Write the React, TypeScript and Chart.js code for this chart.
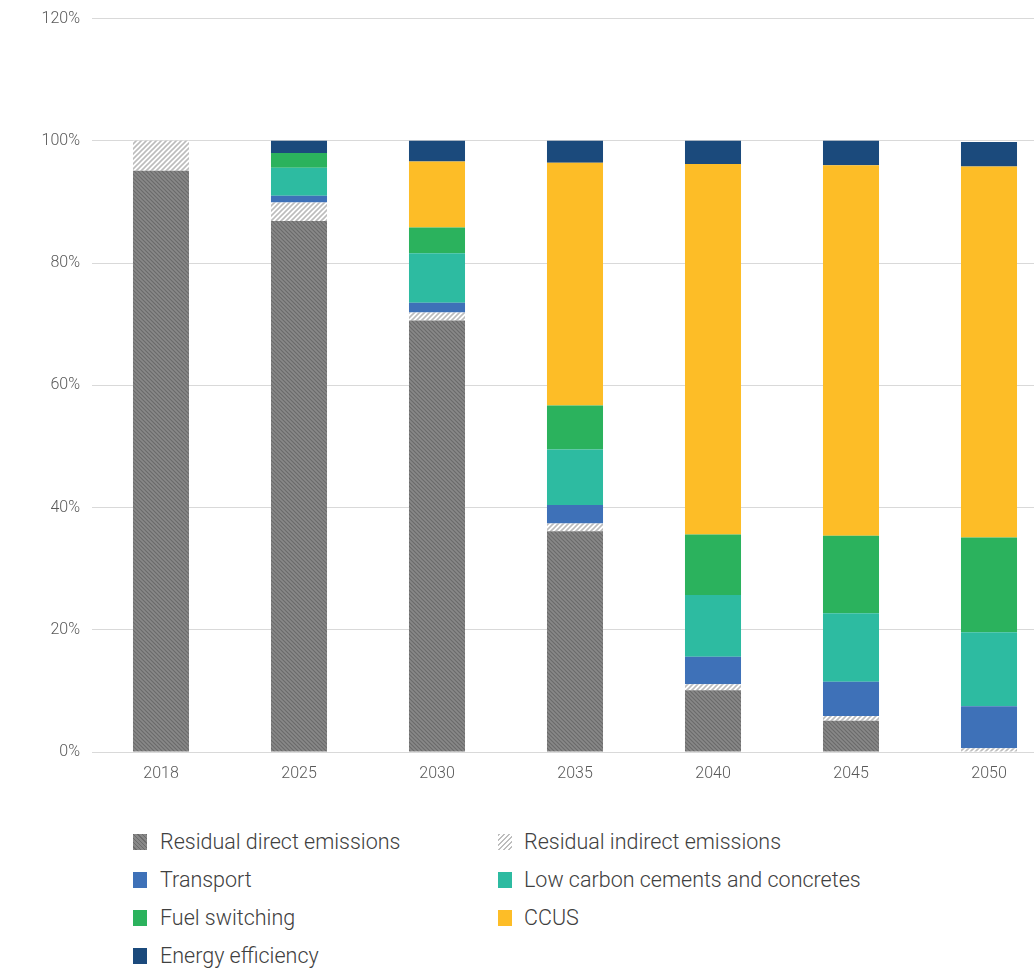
import React, { useEffect, useRef } from "react";
import { Chart, registerables } from "chart.js";

Chart.register(...registerables);

const years = ["2018", "2025", "2030", "2035", "2040", "2045", "2050"];
const residualDirect = [95.1, 86.9, 70.6, 36.1, 10.1, 5.1, 0];
const residualIndirect = [4.9, 3.0, 1.3, 1.3, 1.0, 0.8, 0.6];
const transport = [0, 1.1, 1.6, 3.0, 4.5, 5.6, 6.9];
const lowCarbon = [0, 4.6, 8.1, 9.1, 10.1, 11.2, 12.1];
const fuelSwitching = [0, 2.4, 4.2, 7.2, 9.9, 12.7, 15.5];
const ccus = [0, 0, 10.8, 39.7, 60.6, 60.6, 60.7];
const energyEfficiency = [0, 2.0, 3.4, 3.6, 3.8, 4.0, 4.0];
const yTicks = [0, 20, 40, 60, 80, 100, 120];

const seriesNames = [
  "Residual direct emissions",
  "Residual indirect emissions",
  "Transport",
  "Low carbon cements and concretes",
  "Fuel switching",
  "CCUS",
  "Energy efficiency",
];

const COLORS = {
  transport: "#3e71b8",
  lowCarbon: "#2dbba1",
  fuel: "#2bb25d",
  ccus: "#fdbd27",
  ee: "#1b4a7c",
};

function hatch(bg: string, fg: string, size: number, dir: "/" | "\\", lw: number) {
  const c = document.createElement("canvas");
  c.width = size;
  c.height = size;
  const ctx = c.getContext("2d")!;
  ctx.fillStyle = bg;
  ctx.fillRect(0, 0, size, size);
  ctx.strokeStyle = fg;
  ctx.lineWidth = lw;
  ctx.beginPath();
  if (dir === "/") {
    ctx.moveTo(-1, size + 1);
    ctx.lineTo(size + 1, -1);
    ctx.moveTo(-1, 1);
    ctx.lineTo(1, -1);
    ctx.moveTo(size - 1, size + 1);
    ctx.lineTo(size + 1, size - 1);
  } else {
    ctx.moveTo(-1, -1);
    ctx.lineTo(size + 1, size + 1);
    ctx.moveTo(size - 1, -1);
    ctx.lineTo(size + 1, 1);
    ctx.moveTo(-1, size - 1);
    ctx.lineTo(1, size + 1);
  }
  ctx.stroke();
  return ctx.createPattern(c, "repeat")!;
}

const FONT = "Roboto, 'Open Sans', sans-serif";

export default function App() {
  const ref = useRef<HTMLCanvasElement>(null);

  useEffect(() => {
    document.body.style.margin = "0";
    const directPat = hatch("#888888", "#6b6b6b", 4, "\\", 1.2);
    const indirectPat = hatch("#ffffff", "#bdbdbd", 5, "/", 1.6);
    const fills: any[] = [
      directPat,
      indirectPat,
      COLORS.transport,
      COLORS.lowCarbon,
      COLORS.fuel,
      COLORS.ccus,
      COLORS.ee,
    ];
    const values = [
      residualDirect,
      residualIndirect,
      transport,
      lowCarbon,
      fuelSwitching,
      ccus,
      energyEfficiency,
    ];
    const chart = new Chart(ref.current!, {
      type: "bar",
      data: {
        labels: years,
        datasets: values.map((v, i) => ({
          label: seriesNames[i],
          data: v,
          backgroundColor: fills[i],
          borderWidth: 0,
          categoryPercentage: 1,
          barPercentage: 0.406,
        })),
      },
      options: {
        responsive: false,
        animation: false,
        devicePixelRatio: 1,
        layout: { padding: { top: 14, right: 2, left: 0, bottom: 0 } },
        plugins: { legend: { display: false }, tooltip: { enabled: false } },
        scales: {
          x: {
            stacked: true,
            grid: { display: false, drawTicks: false },
            border: { display: false },
            ticks: {
              color: "#595959",
              font: { family: FONT, size: 16, weight: 300 },
              padding: 12,
            },
            afterFit: (s: any) => {
              s.height = 48;
            },
          },
          y: {
            stacked: true,
            min: 0,
            max: 120,
            afterBuildTicks: (s: any) => {
              s.ticks = yTicks.map((v) => ({ value: v }));
            },
            grid: { color: "#d9d9d9", lineWidth: 1, drawTicks: false },
            border: { display: false },
            ticks: {
              color: "#595959",
              font: { family: FONT, size: 16, weight: 300 },
              padding: 12,
              callback: (v: any) => v + "%",
            },
            afterFit: (s: any) => {
              s.width = 92;
            },
          },
        },
      },
    });
    return () => chart.destroy();
  }, []);

  const directCss =
    "repeating-linear-gradient(45deg, #888 0px, #888 2px, #6b6b6b 2px, #6b6b6b 3px)";
  const indirectCss =
    "repeating-linear-gradient(-45deg, #fff 0px, #fff 2px, #bdbdbd 2px, #bdbdbd 3.5px)";
  const legendItems = [
    { name: seriesNames[0], bg: directCss, col: 0, row: 0 },
    { name: seriesNames[1], bg: indirectCss, col: 1, row: 0 },
    { name: seriesNames[2], bg: COLORS.transport, col: 0, row: 1 },
    { name: seriesNames[3], bg: COLORS.lowCarbon, col: 1, row: 1 },
    { name: seriesNames[4], bg: COLORS.fuel, col: 0, row: 2 },
    { name: seriesNames[5], bg: COLORS.ccus, col: 1, row: 2 },
    { name: seriesNames[6], bg: COLORS.ee, col: 0, row: 3 },
  ];

  return (
    <div
      style={{
        position: "fixed",
        left: 0,
        top: 0,
        width: 1034,
        height: 970,
        overflow: "hidden",
        background: "#fff",
      }}
    >
      <canvas
        ref={ref}
        width={1060}
        height={803}
        style={{ position: "absolute", left: 0, top: -3 }}
      />
      {legendItems.map((it) => {
        const cy = 842 + it.row * 38;
        const sx = it.col === 0 ? 133 : 498;
        const tx = it.col === 0 ? 160 : 524;
        return (
          <React.Fragment key={it.name}>
            <div
              style={{
                position: "absolute",
                left: sx,
                top: cy - 8,
                width: 14,
                height: 16,
                background: it.bg,
              }}
            />
            <div
              style={{
                position: "absolute",
                left: tx,
                top: cy - 14,
                height: 28,
                lineHeight: "28px",
                fontFamily: FONT,
                fontWeight: 300,
                fontSize: 21.5,
                color: "#404040",
                whiteSpace: "nowrap",
              }}
            >
              {it.name}
            </div>
          </React.Fragment>
        );
      })}
    </div>
  );
}
